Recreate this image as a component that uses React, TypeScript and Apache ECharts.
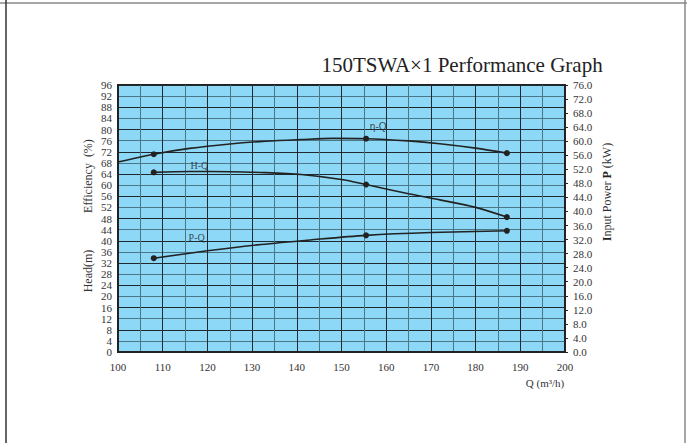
import React, { useEffect, useRef } from "react";
import * as echarts from "echarts";

// Efficiency curve (left axis, %)
const etaFlow = [100, 108, 116, 125, 133, 141, 148, 155.5, 165, 172, 180, 187];
const etaValues = [68.3, 71.1, 73.2, 74.8, 75.8, 76.4, 76.8, 76.7, 75.9, 74.9, 73.3, 71.5];
// Head curve (left axis, m)
const headFlow = [108, 116, 125, 133, 141, 150, 155.5, 165, 172, 180, 187];
const headValues = [64.6, 64.9, 64.8, 64.5, 63.8, 62.0, 60.2, 56.9, 54.7, 52.0, 48.5];
// Input power curve (right axis, kW)
const powerFlow = [108, 120, 132, 143, 155.5, 170, 187];
const powerValues = [26.7, 28.8, 30.6, 31.9, 33.2, 34.0, 34.5];
// Flow rates at which test points are marked with dots
const markedFlows = [108, 155.5, 187];

// Curve captions, anchored in data units
const captionNames = ["η-Q", "H-Q", "P-Q"];
const captionFlow = [158.2, 118.2, 117.6];
const captionValue = [80.9, 66.9, 32.6];
const captionAxis = [0, 0, 1];

const SERIF = "'Liberation Serif', 'Times New Roman', serif";
const INK = "#222";

function curve(flow: number[], values: number[]) {
  return flow.map((q, i) => ({
    value: [q, values[i]],
    symbol: markedFlows.includes(q) ? "circle" : "none",
  }));
}

export default function App() {
  const ref = useRef<HTMLDivElement>(null);

  useEffect(() => {
    if (!ref.current) return;
    const chart = echarts.init(ref.current, undefined, { renderer: "svg" });

    const lineSeries = (name: string, flow: number[], values: number[], yAxisIndex: number) => ({
      name,
      type: "line",
      yAxisIndex,
      smooth: 0.3,
      data: curve(flow, values),
      symbolSize: 6,
      showSymbol: true,
      itemStyle: { color: INK },
      lineStyle: { color: INK, width: 1.6 },
      z: 5,
    });

    const captionSeries = captionNames.map((name, i) => ({
      name: name + "-caption",
      type: "scatter",
      yAxisIndex: captionAxis[i],
      symbolSize: 0,
      itemStyle: { color: "#222" },
      data: [[captionFlow[i], captionValue[i]]],
      label: {
        show: true,
        position: [0, 0],
        align: "center",
        verticalAlign: "middle",
        formatter: name,
        fontFamily: i === 0 ? "'Liberation Sans', Arial, sans-serif" : SERIF,
        fontSize: 10,
        color: "#222",
      },
      z: 6,
    }));

    chart.setOption({
      animation: false,
      backgroundColor: "#fff",
      grid: {
        left: 118,
        right: 122,
        top: 85,
        bottom: 91,
        show: true,
        backgroundColor: "#8dd8f6",
        borderColor: INK,
        borderWidth: 2,
        z: 0,
      },
      xAxis: {
        type: "value",
        min: 100,
        max: 200,
        interval: 5,
        axisLine: { show: true, lineStyle: { color: INK, width: 2 } },
        axisTick: { show: false },
        axisLabel: {
          formatter: (v: number) => (v % 10 === 0 ? String(v) : ""),
          fontFamily: SERIF,
          fontSize: 11,
          color: "#333",
          margin: 9,
        },
        splitLine: { show: true, lineStyle: { color: ["#1e2a30", "#4a7686"], width: 1 } },
      },
      yAxis: [
        {
          type: "value",
          min: 0,
          max: 96,
          interval: 4,
          axisLine: { show: true, lineStyle: { color: INK, width: 2 } },
          axisTick: { show: false },
          axisLabel: { fontFamily: SERIF, fontSize: 11, color: "#333", margin: 6 },
          splitLine: { show: true, lineStyle: { color: ["#1e2a30", "#4a7686"], width: 1 } },
        },
        {
          type: "value",
          min: 0,
          max: 76,
          interval: 4,
          position: "right",
          axisLine: { show: true, lineStyle: { color: INK, width: 2 } },
          axisTick: { show: true, length: 3, lineStyle: { color: INK } },
          axisLabel: {
            formatter: (v: number) => v.toFixed(1),
            fontFamily: SERIF,
            fontSize: 11,
            color: "#333",
            margin: 8,
          },
          splitLine: { show: false },
        },
      ],
      series: [
        lineSeries("η-Q", etaFlow, etaValues, 0),
        lineSeries("H-Q", headFlow, headValues, 0),
        lineSeries("P-Q", powerFlow, powerValues, 1),
        ...captionSeries,
      ],
      graphic: [
        // page frame
        { type: "line", shape: { x1: 0, y1: 3, x2: 687, y2: 3 }, style: { stroke: "#888", lineWidth: 1.5 } },
        { type: "line", shape: { x1: 6, y1: 0, x2: 6, y2: 443 }, style: { stroke: "#333", lineWidth: 1.5 } },
        { type: "line", shape: { x1: 685, y1: 0, x2: 685, y2: 443 }, style: { stroke: "#888", lineWidth: 1.5 } },
        {
          type: "text",
          x: 462,
          y: 65,
          style: {
            text: "150TSWA×1 Performance Graph",
            font: `21px ${SERIF}`,
            fill: "#222",
            textAlign: "center",
            textVerticalAlign: "middle",
          },
        },
        {
          type: "text",
          x: 88,
          y: 176,
          rotation: Math.PI / 2,
          style: {
            text: "Efficiency  (%)",
            font: `12px ${SERIF}`,
            fill: "#333",
            textAlign: "center",
            textVerticalAlign: "middle",
          },
        },
        {
          type: "text",
          x: 88,
          y: 271,
          rotation: Math.PI / 2,
          style: {
            text: "Head(m)",
            font: `12px ${SERIF}`,
            fill: "#333",
            textAlign: "center",
            textVerticalAlign: "middle",
          },
        },
        {
          type: "text",
          x: 607,
          y: 192,
          rotation: Math.PI / 2,
          style: {
            text: "{b|I}nput Power {b|P} (kW)",
            font: `12px ${SERIF}`,
            fill: "#333",
            textAlign: "center",
            textVerticalAlign: "middle",
            rich: { b: { fontWeight: "bold", fontFamily: SERIF, fontSize: 12, fill: "#222" } },
          },
        },
        {
          type: "text",
          x: 545,
          y: 383,
          style: {
            text: "Q (m³/h)",
            font: `11px ${SERIF}`,
            fill: "#333",
            textAlign: "center",
            textVerticalAlign: "middle",
          },
        },
      ],
    });

    return () => chart.dispose();
  }, []);

  return (
    <div
      ref={ref}
      style={{ position: "fixed", left: 0, top: 0, width: 687, height: 443 }}
    />
  );
}
